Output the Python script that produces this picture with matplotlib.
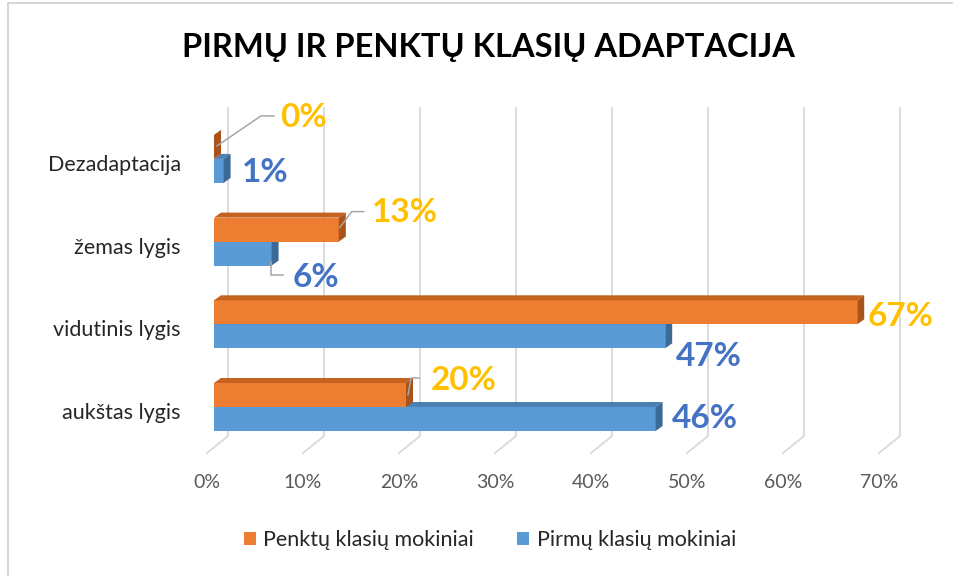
import matplotlib.pyplot as plt
from matplotlib.patches import Polygon, Rectangle, Patch
from matplotlib.lines import Line2D

plt.rcParams["font.family"] = ["Lato", "DejaVu Sans"]

# data (bottom to top)
categories = ["aukštas lygis", "vidutinis lygis", "žemas lygis", "Dezadaptacija"]
penktu = [20, 67, 13, 0]
pirmu = [46, 47, 6, 1]
series_names = ["Penktų klasių mokiniai", "Pirmų klasių mokiniai"]
xticks = [0, 10, 20, 30, 40, 50, 60, 70]

orange = "#ED7D31"
orange_top = "#C4631F"
orange_side = "#A9531A"
blue = "#5B9BD5"
blue_top = "#4B80B3"
blue_side = "#3C6A96"
orange_lbl = "#FFC000"
blue_lbl = "#4472C4"

W, H = 954, 576
fig = plt.figure(figsize=(W / 100, H / 100), dpi=100)

# axes mapped so that 1 % = 9.6 px, category step = 82.7 px
px_per_x = 9.6
px_per_y = 82.7
x0_px, y0_px = 214, 407
left_px, right_px, top_px, bot_px = 200, 940, 90, 460
ax = fig.add_axes([left_px / W, 1 - bot_px / H,
                   (right_px - left_px) / W, (bot_px - top_px) / H])
ax.set_xlim((left_px - x0_px) / px_per_x, (right_px - x0_px) / px_per_x)
ax.set_ylim((y0_px - bot_px) / px_per_y, (y0_px - top_px) / px_per_y)
ax.axis("off")

bh = 24 / px_per_y
dx = 7 / px_per_x
dy = 5 / px_per_y

# back wall grid lines with floor edge
wall = 14 / px_per_x
g_top = (y0_px - 108) / px_per_y
g_bot = (y0_px - 436) / px_per_y
f_x = -7 / px_per_x
f_y = (y0_px - 453) / px_per_y
for t in xticks:
    ax.plot([t + wall, t + wall, t + f_x], [g_top, g_bot, f_y],
            color="#D9D9D9", lw=1.3, zorder=1, solid_joinstyle="miter")
    ax.text(t + f_x, (y0_px - 482) / px_per_y, f"{t}%", ha="center",
            va="center", fontsize=14, color="#595959")


def bar3d(y0, v, front, top, side):
    y1 = y0 + bh
    ax.add_patch(Rectangle((0, y0), v, bh, facecolor=front, edgecolor="none", zorder=3))
    ax.add_patch(Polygon([(0, y1), (v, y1), (v + dx, y1 + dy), (dx, y1 + dy)],
                         facecolor=top, edgecolor="none", zorder=3))
    ax.add_patch(Polygon([(v, y0), (v, y1), (v + dx, y1 + dy), (v + dx, y0 + dy)],
                         facecolor=side, edgecolor="none", zorder=3))


for i in range(len(categories)):
    bar3d(i - bh, pirmu[i], blue, blue_top, blue_side)
    bar3d(i, penktu[i], orange, orange_top, orange_side)
    ax.text((181 - x0_px) / px_per_x, i - 6 / px_per_y, categories[i],
            ha="right", va="center", fontsize=15.5, color="#262626")

# value labels: offsets in px from bar end / bar centre
o_off = [(25, -15), (10, 4), (33, -17), (66, -29)]
b_off = [(16, -1), (11, 20), (21, 24), (18, 2)]
o_lead = [[(2, 0), (5, -17), (13, -17)], None,
          [(1, -2), (13, -18), (25, -18)], [(3, -1), (47, -31), (60, -31)]]
b_lead = [None, None, [(-1, 8), (-1, 21), (11, 21)], None]

for i in range(len(categories)):
    for v, yc, off, lead, col in [
            (penktu[i], i + bh / 2, o_off[i], o_lead[i], orange_lbl),
            (pirmu[i], i - bh / 2, b_off[i], b_lead[i], blue_lbl)]:
        if lead:
            ax.plot([v + p[0] / px_per_x for p in lead],
                    [yc - p[1] / px_per_y for p in lead],
                    color="#A6A6A6", lw=1.1, zorder=4)
        ax.text(v + off[0] / px_per_x, yc - off[1] / px_per_y, f"{v}%",
                ha="left", va="center", fontsize=24, fontweight="bold",
                color=col, zorder=5)

fig.text(488 / W, 1 - 47 / H, "PIRMŲ IR PENKTŲ KLASIŲ ADAPTACIJA",
         ha="center", va="center", fontsize=23.5, fontweight="bold", color="black")

handles = [Patch(facecolor=orange), Patch(facecolor=blue)]
fig.legend(handles, series_names, loc="center", bbox_to_anchor=(490 / W, 1 - 540 / H),
           ncol=2, frameon=False, fontsize=15.5, handlelength=0.55, handleheight=0.55,
           handletextpad=0.35, columnspacing=2.0, labelcolor="#262626")

# chart border (left and top edge visible)
fig.add_artist(Line2D([8 / W, 8 / W], [0, 1 - 3 / H], color="#D0D0D0", lw=1.2))
fig.add_artist(Line2D([8 / W, 1], [1 - 3 / H, 1 - 3 / H], color="#D0D0D0", lw=1.2))

fig.savefig("out.png", dpi=100)
